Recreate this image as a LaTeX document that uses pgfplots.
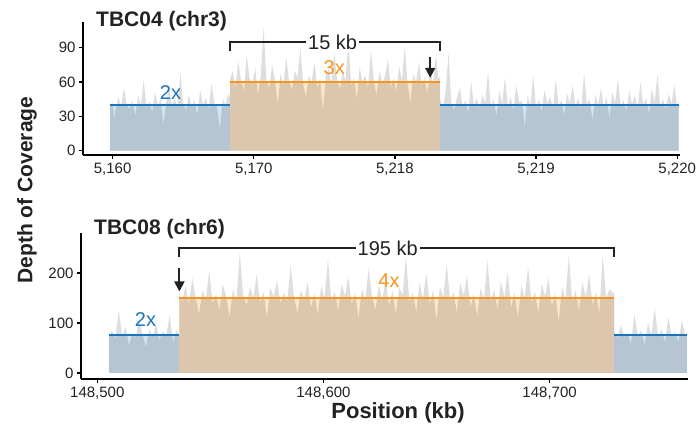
\documentclass[border=0pt]{standalone}
\usepackage{pgfplots}
\pgfplotsset{compat=1.18}
\usepackage{fontspec}
\setmainfont{Liberation Sans}
\usetikzlibrary{arrows.meta}
\definecolor{covgray}{HTML}{DEDEDE}
\definecolor{lblue}{HTML}{D0E4F2}
\definecolor{lorange}{HTML}{FDE5C8}
\definecolor{cnblue}{HTML}{1A75BC}
\definecolor{cnorange}{HTML}{F7941E}
\definecolor{ink}{HTML}{222222}
\pgfplotsset{
  covax/.style={
    scale only axis,
    axis lines=left,
    axis line style={line width=2.2pt,-,black},
    tick align=outside,
    major tick length=4pt,
    tick style={line width=1.2pt,black},
    ticklabel style={font=\fontsize{15}{18}\selectfont, text=ink},
    scaled x ticks=false, scaled y ticks=false,
    clip=false,
  },
}
\begin{document}
\begin{tikzpicture}
\path[use as bounding box] (0,0) rectangle (698pt,433pt);
% ---------------- top panel ----------------
\begin{axis}[covax,
  at={(83pt,278pt)}, anchor=south west,
  width=597pt, height=133pt,
  xmin=-0.21, xmax=4.02, ymin=-3.8, ymax=112.6,
  xtick={0,1,2,3,4},
  xticklabels={{5,160},{5,170},{5,218},{5,219},{5,220}},
  ytick={0,30,60,90}, yticklabels={0,30,60,90},
]
\addplot[draw=none, fill=covgray] coordinates {
(-0.02,38)(0.00,42)(0.01,28)(0.02,35)(0.04,47)(0.06,39)(0.08,55)(0.10,41)(0.12,36)(0.14,44)(0.16,30)
(0.18,48)(0.20,40)(0.22,62)(0.24,38)(0.26,43)(0.28,34)(0.30,51)(0.32,40)(0.34,45)(0.36,22)
(0.38,42)(0.40,57)(0.42,39)(0.44,46)(0.46,37)(0.48,68)(0.50,41)(0.52,35)(0.54,49)(0.56,38)
(0.58,44)(0.60,31)(0.62,53)(0.64,40)(0.66,46)(0.68,36)(0.70,59)(0.72,42)(0.74,38)(0.76,18)
(0.78,45)(0.80,40)(0.82,50)(0.832,46)
(0.832,62)(0.85,70)(0.87,55)(0.89,78)(0.91,61)(0.93,52)(0.95,84)(0.97,63)(0.99,58)(1.01,72)
(1.03,49)(1.05,66)(1.07,108)(1.09,60)(1.11,55)(1.13,75)(1.15,62)(1.17,40)(1.19,68)(1.21,57)
(1.23,82)(1.25,61)(1.27,53)(1.29,70)(1.31,64)(1.33,90)(1.35,58)(1.37,47)(1.39,66)(1.41,60)
(1.43,77)(1.45,55)(1.47,63)(1.49,34)(1.51,65)(1.53,72)(1.55,59)(1.57,86)(1.59,62)(1.61,54)
(1.63,69)(1.65,61)(1.67,96)(1.69,57)(1.71,64)(1.73,45)(1.75,73)(1.77,60)(1.79,66)(1.81,55)
(1.83,88)(1.85,62)(1.87,48)(1.89,70)(1.91,59)(1.93,65)(1.95,80)(1.97,56)(1.99,63)(2.01,52)
(2.03,74)(2.05,61)(2.07,92)(2.09,58)(2.11,42)(2.13,67)(2.15,60)(2.17,78)(2.19,57)(2.21,64)
(2.23,50)(2.25,71)(2.27,59)(2.29,83)(2.31,62)(2.321,66)
(2.321,45)(2.34,38)(2.36,52)(2.38,86)(2.40,41)(2.42,36)(2.44,47)(2.46,55)(2.48,39)(2.50,44)
(2.52,33)(2.54,61)(2.56,40)(2.58,46)(2.60,37)(2.62,49)(2.64,42)(2.66,70)(2.68,38)(2.70,45)
(2.72,30)(2.74,52)(2.76,41)(2.78,64)(2.80,39)(2.82,47)(2.84,35)(2.86,58)(2.88,42)(2.90,44)
(2.92,20)(2.94,48)(2.96,40)(2.98,66)(3.00,38)(3.02,45)(3.04,34)(3.06,53)(3.08,41)(3.10,47)
(3.12,37)(3.14,62)(3.16,40)(3.18,44)(3.20,31)(3.22,50)(3.24,42)(3.26,57)(3.28,39)(3.30,46)
(3.32,36)(3.34,68)(3.36,41)(3.38,45)(3.40,26)(3.42,49)(3.44,40)(3.46,55)(3.48,38)(3.50,47)
(3.52,28)(3.54,51)(3.56,42)(3.58,63)(3.60,39)(3.62,44)(3.64,35)(3.66,52)(3.68,41)(3.70,48)
(3.72,37)(3.74,60)(3.76,40)(3.78,46)(3.80,32)(3.82,54)(3.84,42)(3.86,67)(3.88,39)(3.90,45)
(3.92,36)(3.94,50)(3.96,41)(3.98,58)(4.00,38)(4.01,44)
} \closedcycle;
\addplot[draw=none, fill=lblue, blend mode=multiply] coordinates {(-0.02,40)(0.832,40)} \closedcycle;
\addplot[draw=none, fill=lorange, blend mode=multiply] coordinates {(0.832,60)(2.321,60)} \closedcycle;
\addplot[draw=none, fill=lblue, blend mode=multiply] coordinates {(2.321,40)(4.01,40)} \closedcycle;
\addplot[cnblue, line width=2pt] coordinates {(-0.02,40)(0.832,40)};
\addplot[cnorange, line width=2pt] coordinates {(0.832,60)(2.321,60)};
\addplot[cnblue, line width=2pt] coordinates {(2.321,40)(4.01,40)};
\draw[ink, line width=1.8pt] (axis cs:0.832,87.5) -- (axis cs:0.832,94.8) -- (axis cs:2.321,94.8) -- (axis cs:2.321,87.5);
\node[fill=white, inner sep=2pt, font=\fontsize{20}{24}\selectfont, text=ink] at (axis cs:1.559,94.8) {15 kb};
\draw[ink, line width=1.8pt, -{Triangle[length=10pt,width=10pt]}] (axis cs:2.25,82) -- (axis cs:2.25,63.8);
\node[anchor=base, font=\fontsize{20}{24}\selectfont, text=cnblue] at (axis cs:0.41,45) {2x};
\node[anchor=base, font=\fontsize{20}{24}\selectfont, text=cnorange] at (axis cs:1.57,67) {3x};
\end{axis}
% ---------------- bottom panel ----------------
\begin{axis}[covax,
  at={(81pt,54pt)}, anchor=south west,
  width=607pt, height=146pt,
  xmin=148492.8, xmax=148761.2, ymin=-12, ymax=280,
  xtick={148500,148600,148700},
  xticklabels={{148,500},{148,600},{148,700}},
  ytick={0,100,200}, yticklabels={0,100,200},
]
\addplot[draw=none, fill=covgray] coordinates {
(148505.2,72)(148506.5,85)(148508,68)(148509.5,125)(148511,74)(148512.5,92)(148514,55)(148515.5,80)
(148517,71)(148518.5,108)(148520,76)(148521.5,52)(148523,88)(148524.5,73)(148526,98)(148527.5,66)
(148529,82)(148530.5,75)(148532,115)(148533.5,62)(148535,86)(148536.3,74)
(148536.3,160)(148537.5,142)(148539,175)(148540.5,138)(148542,190)(148543.5,150)(148545,118)(148546.5,165)
(148548,147)(148549.5,205)(148551,140)(148552.5,158)(148554,126)(148555.5,178)(148557,152)(148558.5,112)
(148560,168)(148561.5,145)(148563,240)(148564.5,155)(148566,136)(148567.5,172)(148569,149)(148570.5,198)
(148572,141)(148573.5,162)(148575,110)(148576.5,170)(148578,153)(148579.5,185)(148581,139)(148582.5,160)
(148584,144)(148585.5,215)(148587,151)(148588.5,120)(148590,166)(148591.5,148)(148593,182)(148594.5,130)
(148596,159)(148597.5,116)(148599,174)(148600.5,150)(148602,228)(148603.5,143)(148605,163)(148606.5,124)
(148608,177)(148609.5,154)(148611,192)(148612.5,138)(148614,161)(148615.5,108)(148617,169)(148618.5,147)
(148620,210)(148621.5,152)(148623,126)(148624.5,176)(148626,145)(148627.5,188)(148629,134)(148630.5,164)
(148632,118)(148633.5,171)(148635,156)(148636.5,232)(148638,142)(148639.5,160)(148641,122)(148642.5,180)
(148644,149)(148645.5,200)(148647,137)(148648.5,165)(148650,104)(148651.5,173)(148653,151)(148654.5,218)
(148656,146)(148657.5,162)(148659,121)(148660.5,179)(148662,155)(148663.5,195)(148665,132)(148666.5,158)
(148668,114)(148669.5,170)(148671,148)(148672.5,225)(148674,144)(148675.5,166)(148677,127)(148678.5,183)
(148680,152)(148681.5,202)(148683,130)(148684.5,161)(148686,110)(148687.5,175)(148689,150)(148690.5,212)
(148692,141)(148693.5,163)(148695,119)(148696.5,178)(148698,154)(148699.5,190)(148701,133)(148702.5,160)
(148704,100)(148705.5,172)(148707,147)(148708.5,235)(148710,143)(148711.5,165)(148713,124)(148714.5,181)
(148716,153)(148717.5,198)(148719,136)(148720.5,162)(148722,118)(148723.5,238)(148725,150)(148726.5,168)
(148728.6,158)
(148728.6,82)(148730,70)(148731.5,95)(148733,72)(148734.5,80)(148736,58)(148737.5,118)(148739,74)
(148740.5,85)(148742,55)(148743.5,100)(148745,76)(148746.5,130)(148748,71)(148749.5,88)(148751,60)
(148752.5,112)(148754,73)(148755.5,82)(148757,62)(148758.5,105)(148760,74)(148760.8,80)
} \closedcycle;
\addplot[draw=none, fill=lblue, blend mode=multiply] coordinates {(148505.2,75)(148536.3,75)} \closedcycle;
\addplot[draw=none, fill=lorange, blend mode=multiply] coordinates {(148536.3,150)(148728.6,150)} \closedcycle;
\addplot[draw=none, fill=lblue, blend mode=multiply] coordinates {(148728.6,75)(148760.8,75)} \closedcycle;
\addplot[cnblue, line width=2pt] coordinates {(148505.2,75)(148536.3,75)};
\addplot[cnorange, line width=2pt] coordinates {(148536.3,150)(148728.6,150)};
\addplot[cnblue, line width=2pt] coordinates {(148728.6,75)(148760.8,75)};
\draw[ink, line width=1.8pt] (axis cs:148536.3,232) -- (axis cs:148536.3,250) -- (axis cs:148728.6,250) -- (axis cs:148728.6,232);
\node[fill=white, inner sep=2pt, font=\fontsize{20}{24}\selectfont, text=ink] at (axis cs:148628.4,250) {195 kb};
\draw[ink, line width=1.8pt, -{Triangle[length=10pt,width=10pt]}] (axis cs:148536.3,209) -- (axis cs:148536.3,163);
\node[anchor=base, font=\fontsize{20}{24}\selectfont, text=cnblue] at (axis cs:148521.3,92.6) {2x};
\node[anchor=base, font=\fontsize{20}{24}\selectfont, text=cnorange] at (axis cs:148629,171) {4x};
\end{axis}
% ---------------- titles and labels ----------------
\node[anchor=base west, font=\bfseries\fontsize{21}{24}\selectfont, text=ink, inner sep=0pt] at (96pt,406.3pt) {TBC04 (chr3)};
\node[anchor=base west, font=\bfseries\fontsize{21}{24}\selectfont, text=ink, inner sep=0pt] at (94pt,198pt) {TBC08 (chr6)};
\node[rotate=90, font=\bfseries\fontsize{21}{24}\selectfont, text=ink] at (27pt,243pt) {Depth of Coverage};
\node[font=\bfseries\fontsize{22}{24}\selectfont, text=ink] at (398pt,20pt) {Position (kb)};
\end{tikzpicture}
\end{document}
